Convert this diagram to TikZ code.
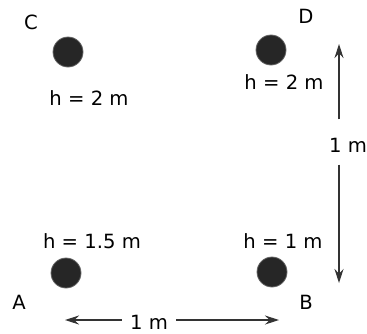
\documentclass[tikz,border=0pt]{standalone}
\usepackage{fontspec}
\setmainfont{DejaVu Sans}
\usetikzlibrary{arrows.meta,positioning}

\begin{document}
\begin{tikzpicture}[x=0.5pt, y=0.5pt, >={Stealth[length=7pt,width=4.5pt]},
    font=\fontsize{9.8}{11}\selectfont,
    pole/.style={circle, fill=black!85, draw=black!60, minimum size=15pt, inner sep=0pt},
    corner/.style={inner sep=0pt},
    height/.style={inner sep=0pt},
    dist/.style={inner sep=4pt},
    measure/.style={->, black!80, line width=0.6pt}]
  \useasboundingbox (0,0) rectangle (367,333);
  % poles
  \node[pole] (pC) at (68,281) {};
  \node[pole] (pD) at (271,283) {};
  \node[pole] (pA) at (66,60) {};
  \node[pole] (pB) at (272,61) {};
  % corner letters
  \node[corner] (lC) at (31,311) {C};
  \node[corner] (lD) at (306,317) {D};
  \node[corner] (lA) at (19,31) {A};
  \node[corner] (lB) at (306,31) {B};
  % heights
  \node[height] (hC) at (89,235) {h = 2 m};
  \node[height] (hD) at (284,251) {h = 2 m};
  \node[height] (hA) at (92,92) {h = 1.5 m};
  \node[height] (hB) at (283,92) {h = 1 m};
  % distances
  \node[dist] (dv) at (348,188) {1 m};
  \coordinate (dvtop) at (339,289);
  \coordinate (dvbot) at (339,50);
  \draw[measure, shorten <=5pt] (dv.north -| dvtop) -- (dvtop);
  \draw[measure, shorten <=2pt] (dv.south -| dvbot) -- (dvbot);
  \node[dist] (dh) at (149,11) {1 m};
  \coordinate (dhleft) at (65,13);
  \coordinate (dhright) at (279,13);
  \draw[measure] (dh.west |- dhleft) -- (dhleft);
  \draw[measure] (dh.east |- dhright) -- (dhright);
\end{tikzpicture}
\end{document}
